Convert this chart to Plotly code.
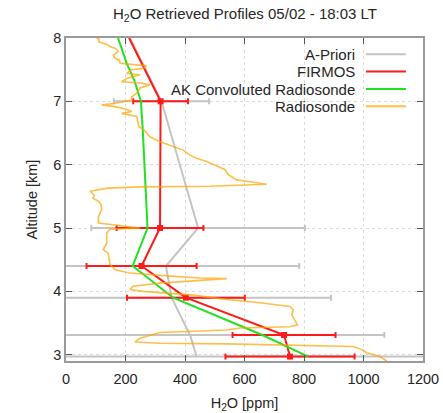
import plotly.graph_objects as go

# ---------------- data ----------------
# FIRMOS retrieval levels (km) and values (ppm)
firmos_alt = [7.0, 5.0, 4.4, 3.9, 3.31, 2.97]
firmos_val = [318, 316, 254, 403, 733, 753]
firmos_err = [92, 146, 185, 198, 173, 217]
# FIRMOS profile line (includes value read at the top edge)
firmos_line_alt = [8.0, 7.0, 5.0, 4.4, 3.9, 3.31, 2.97]
firmos_line_val = [212, 318, 316, 254, 403, 733, 753]

# A-Priori
apriori_alt = [8.0, 7.0, 5.0, 4.4, 3.9, 3.31, 2.97]
apriori_val = [215, 321, 444, 336, 355, 417, 439]
apriori_err_alt = [7.0, 5.0, 4.4, 3.9, 3.31, 2.97]
apriori_err_val = [321, 444, 336, 355, 417, 439]
apriori_err = [160, 359, 448, 536, 653, 800]

# AK convoluted radiosonde
ak_alt = [8.0, 7.6, 7.34, 7.0, 6.55, 5.76, 5.0, 4.4, 3.9, 3.31, 2.97]
ak_val = [175, 204, 229, 252, 258, 266, 274, 224, 360, 660, 814]

# Radiosonde
sonde_alt = [8.00, 7.98, 7.94, 7.92, 7.89, 7.86, 7.84, 7.79, 7.73, 7.68, 7.65, 7.60,
             7.57, 7.56, 7.52, 7.50, 7.44, 7.42, 7.36, 7.31, 7.29, 7.26, 7.21, 7.13,
             7.07, 7.02, 6.97, 6.94, 6.92, 6.88, 6.84, 6.81, 6.76, 6.60, 6.55, 6.44,
             6.36, 6.29, 6.23, 6.15, 6.10, 6.05, 5.92, 5.84, 5.76, 5.73, 5.69, 5.66,
             5.65, 5.63, 5.58, 5.52, 5.47, 5.42, 5.37, 5.29, 5.18, 5.08, 5.05, 5.00,
             4.98, 4.92, 4.76, 4.66, 4.60, 4.42, 4.34, 4.29, 4.24, 4.21, 4.20, 4.16,
             4.13, 4.08, 4.03, 4.00, 3.94, 3.87, 3.82, 3.76, 3.71, 3.63, 3.47, 3.44,
             3.42, 3.39, 3.35, 3.26, 3.20, 3.18, 3.17, 3.13, 3.08, 3.03, 2.97, 2.92, 2.90]
sonde_val = [103, 112, 109, 125, 142, 148, 165, 176, 159, 165, 179, 182,
             238, 271, 260, 221, 204, 249, 204, 187, 249, 282, 249, 238,
             221, 221, 165, 120, 160, 200, 221, 187, 238, 245, 262, 282,
             316, 361, 394, 417, 439, 473, 535, 546, 574, 618, 675, 484,
             250, 140, 81, 95, 90, 110, 118, 120, 109, 109, 159, 249,
             148, 137, 137, 125, 142, 148, 165, 215, 350, 450, 540, 428,
             316, 226, 215, 260, 428, 540, 652, 753, 764, 759, 778, 753,
             585, 540, 316, 249, 232, 316, 540, 966, 994, 1011, 1055, 1072, 1078]

x_ticks = [0, 200, 400, 600, 800, 1000, 1200]
y_ticks = [3, 4, 5, 6, 7, 8]

legend_names = ["A-Priori", "FIRMOS", "AK Convoluted Radiosonde", "Radiosonde"]

# ---------------- styles ----------------
C_GREY = "#c4c4c4"
C_RED = "#ff1a1a"
C_GREEN = "#22e022"
C_ORANGE = "rgba(255,165,0,0.72)"
FONT = "Liberation Sans, Arial, sans-serif"
TXT = "#262626"

fig = go.Figure()

# A-Priori error bars
fig.add_trace(go.Scatter(
    x=apriori_err_val, y=apriori_err_alt, mode="markers",
    marker=dict(size=1, color="rgba(0,0,0,0)"),
    error_x=dict(type="data", array=apriori_err, color=C_GREY, thickness=2, width=3),
    showlegend=False, hoverinfo="skip"))
# A-Priori line
fig.add_trace(go.Scatter(x=apriori_val, y=apriori_alt, mode="lines",
                         line=dict(color=C_GREY, width=2), showlegend=False))

# FIRMOS error bars + markers
fig.add_trace(go.Scatter(
    x=firmos_val, y=firmos_alt, mode="markers",
    marker=dict(size=6, color=C_RED, symbol="square"),
    error_x=dict(type="data", array=firmos_err, color=C_RED, thickness=2, width=3),
    showlegend=False))
fig.add_trace(go.Scatter(x=firmos_line_val, y=firmos_line_alt, mode="lines",
                         line=dict(color=C_RED, width=2), showlegend=False))

# AK convoluted
fig.add_trace(go.Scatter(x=ak_val, y=ak_alt, mode="lines",
                         line=dict(color=C_GREEN, width=2), showlegend=False))

# Radiosonde
fig.add_trace(go.Scatter(x=sonde_val, y=sonde_alt, mode="lines",
                         line=dict(color=C_ORANGE, width=1.6), showlegend=False))

# ---------------- custom legend (text left of line sample, gnuplot style) ----------------
legend_colors = [C_GREY, C_RED, C_GREEN, C_ORANGE]
legend_y = [0.950, 0.896, 0.842, 0.789]
for name, col, yy in zip(legend_names, legend_colors, legend_y):
    fig.add_annotation(x=0.816, y=yy, xref="paper", yref="paper", text=name,
                       showarrow=False, xanchor="right", yanchor="middle",
                       font=dict(size=15, color=TXT, family=FONT))
    fig.add_shape(type="line", xref="paper", yref="paper", x0=0.840, x1=0.952,
                  y0=yy, y1=yy, line=dict(color=col, width=2))

axis_common = dict(
    showline=True, linecolor="#9a9a9a", linewidth=1.5, mirror="ticks",
    ticks="inside", ticklen=6, tickcolor="#555", tickwidth=1,
    showgrid=True, gridcolor="#dcdcdc", griddash="dot", gridwidth=1,
    zeroline=False, automargin=False,
    tickfont=dict(size=14.5, color=TXT, family=FONT),
)

fig.update_xaxes(range=[0, 1200], tickvals=x_ticks, ticklabelstandoff=4,
                 title=dict(text="H<sub>2</sub>O [ppm]", font=dict(size=14.5, color=TXT, family=FONT), standoff=12),
                 **axis_common)
fig.update_yaxes(range=[2.9, 8], tickvals=y_ticks,
                 title=dict(text="Altitude [km]", font=dict(size=14.5, color=TXT, family=FONT), standoff=12),
                 **axis_common)

fig.update_layout(
    width=443, height=413,
    margin=dict(l=66, r=20, t=38, b=52, autoexpand=False),
    paper_bgcolor="white", plot_bgcolor="white",
    title=dict(text="H<sub>2</sub>O Retrieved Profiles 05/02 - 18:03 LT",
               x=0.553, xanchor="center", y=0.966, yanchor="middle", yref="container",
               font=dict(size=15, color=TXT, family=FONT)),
    showlegend=False,
)

# remove the browser's default 8px body margin so the figure fills the window exactly
fig.write_html("out.html", config={"displayModeBar": False},
               post_script="document.body.style.margin='0';")
